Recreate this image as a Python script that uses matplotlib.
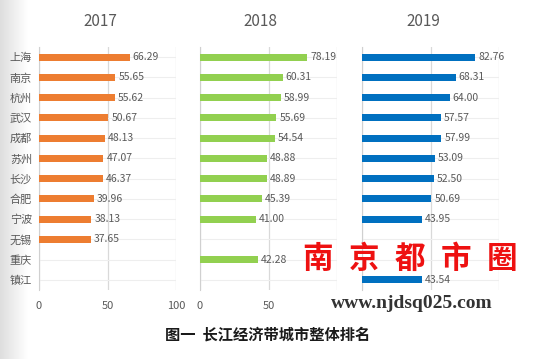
import numpy as np
import matplotlib
matplotlib.use("Agg")
import matplotlib.pyplot as plt

plt.rcParams['font.family'] = ['Noto Sans CJK SC', 'DejaVu Sans']

# data
cities = ['上海', '南京', '杭州', '武汉', '成都', '苏州', '长沙', '合肥', '宁波', '无锡', '重庆', '镇江']
years = ['2017', '2018', '2019']
v2017 = [66.29, 55.65, 55.62, 50.67, 48.13, 47.07, 46.37, 39.96, 38.13, 37.65, None, None]
v2018 = [78.19, 60.31, 58.99, 55.69, 54.54, 48.88, 48.89, 45.39, 41.00, None, 42.28, None]
v2019 = [82.76, 68.31, 64.00, 57.57, 57.99, 53.09, 52.50, 50.69, 43.95, None, None, 43.54]
series = [v2017, v2018, v2019]
colors = ['#ED7D31', '#92D050', '#0070C0']
tick_labels = [['0', '50', '100'], ['0', '50', ''], ['', '', '']]  # 2019 ticks hidden by the watermark

fig = plt.figure(figsize=(5.5, 3.59), dpi=100)
fig.patch.set_facecolor('white')

# scanned-page shadow at the left edge
bg = fig.add_axes([0, 0, 0.05, 1], zorder=-5)
grad = np.linspace(0, 1, 64).reshape(1, -1)
bg.imshow(grad, aspect='auto', cmap=matplotlib.colors.LinearSegmentedColormap.from_list('s', ['#dedede', '#ffffff']))
bg.axis('off')

lefts = [39 / 550, 200 / 550, 362 / 550]
title_x = [100 / 550, 260 / 550, 423 / 550]
grey = '#595959'
y = np.arange(len(cities))

for i, (vals, col) in enumerate(zip(series, colors)):
    ax = fig.add_axes([lefts[i], 1 - 290 / 359, 137 / 550, 243 / 359])
    for j, v in enumerate(vals):
        if v is None:
            continue
        ax.barh(y[j], v, height=0.34, color=col, zorder=3)
        ax.text(v + 2.2, y[j], f'{v:.2f}', va='center', ha='left', fontsize=7.5,
                color=grey, zorder=4)
    ax.set_xlim(0, 100)
    ax.set_ylim(len(cities) - 0.5, -0.5)
    ax.set_xticks([0, 50, 100])
    ax.set_xticklabels(tick_labels[i])
    ax.set_yticks(y)
    if i == 0:
        ax.set_yticklabels(cities, fontsize=8, color=grey)
    else:
        ax.set_yticklabels([])
    ax.tick_params(axis='both', length=0, labelsize=8, colors=grey, pad=8)
    ax.tick_params(axis='y', pad=5)
    for sp in ['top', 'right', 'bottom']:
        ax.spines[sp].set_visible(False)
    ax.spines['left'].set_color('#d0d0d0')
    ax.grid(axis='x', color='#d9d9d9', lw=0.9, zorder=0)
    ax.grid(axis='y', color='#eeeeee', lw=0.8, zorder=0)
    ax.set_facecolor('none')
    fig.text(title_x[i], 1 - 22 / 359, years[i], ha='center', va='center',
             fontsize=11, color=grey)

# caption
fig.text(0.487, 1 - 334 / 359, '图一  长江经济带城市整体排名', ha='center', va='center',
         fontsize=11, fontweight='bold', color='#1a1a1a')

# watermark
for k, ch in enumerate('南京都市圈'):
    fig.text((318 + k * 46) / 550, 1 - 259 / 359, ch, ha='center', va='center',
             fontsize=22, fontweight='bold', color='#ee1111', zorder=10)
fig.text(412 / 550, 1 - 303 / 359, 'www.njdsq025.com', ha='center', va='center',
         fontsize=14, fontweight='bold', color='#333333', family='Liberation Serif', zorder=10)

fig.savefig('out.png', dpi=100, facecolor='white')
